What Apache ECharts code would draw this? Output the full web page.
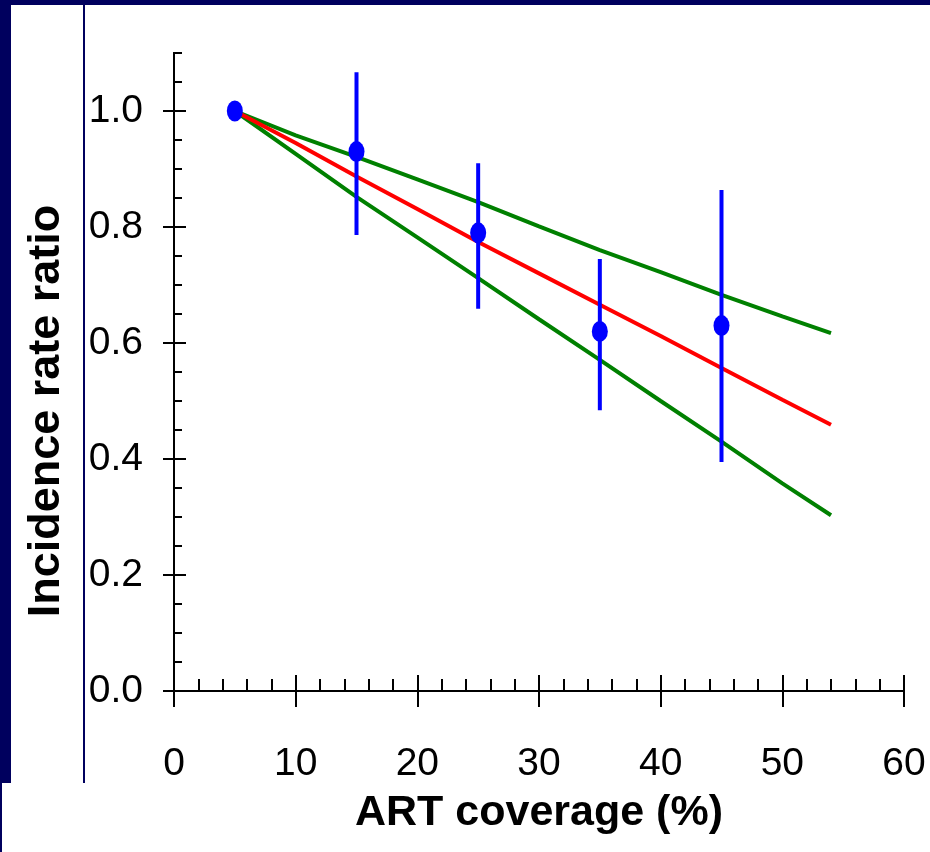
<!DOCTYPE html>
<html>
<head>
<meta charset="utf-8">
<script src="https://cdn.jsdelivr.net/npm/echarts@6/dist/echarts.min.js"></script>
<style>
html,body{margin:0;padding:0;background:#fff;}
#chart{width:930px;height:852px;}
</style>
</head>
<body>
<div id="chart"></div>
<script>
// ---- data ----
const xTitle = 'ART coverage (%)';
const yTitle = 'Incidence rate ratio';
const pointX = [5, 15, 25, 35, 45];
const pointY = [1.0, 0.93, 0.79, 0.62, 0.63];
const errLow = [1.0, 0.786, 0.659, 0.484, 0.395];
const errHigh = [1.0, 1.067, 0.910, 0.745, 0.864];
const lineX = [5, 10, 15, 20, 25, 30, 35, 40, 45, 50, 54];
const redY = [1.0, 0.945, 0.887, 0.831, 0.774, 0.720, 0.666, 0.612, 0.557, 0.502, 0.459];
const upperY = [1.0, 0.958, 0.921, 0.882, 0.843, 0.801, 0.760, 0.722, 0.683, 0.646, 0.617];
const lowerY = [1.0, 0.926, 0.852, 0.782, 0.712, 0.641, 0.571, 0.500, 0.430, 0.358, 0.303];
const yMajorTicks = [0, 0.2, 0.4, 0.6, 0.8, 1.0];
const yMinorTicks = [0.05, 0.1, 0.15, 0.25, 0.3, 0.35, 0.45, 0.5, 0.55, 0.65, 0.7, 0.75, 0.85, 0.9, 0.95, 1.05, 1.1];
const yTickLabels = ['0.0', '0.2', '0.4', '0.6', '0.8', '1.0'];

const navy = '#00005e';
const tickFont = "'Liberation Sans',Arial,Helvetica,sans-serif";
const titleFont = "'Liberation Sans',Arial,Helvetica,sans-serif";

function zip(xs, ys) { return xs.map((x, i) => [x, ys[i]]); }

const chart = echarts.init(document.getElementById('chart'), null, {renderer: 'canvas'});

const baseY = {
  type: 'value', min: 0, max: 1.1, position: 'left', offset: 0,
  splitLine: {show: false},
  axisLine: {show: true, lineStyle: {color: '#000', width: 2}},
  axisLabel: {show: false}
};
const baseX = {
  type: 'value', min: 0, max: 60, interval: 10, position: 'bottom', offset: 0,
  splitLine: {show: false},
  axisLine: {show: true, onZero: false, lineStyle: {color: '#000', width: 2}},
  axisLabel: {show: false}
};

const option = {
  backgroundColor: '#ffffff',
  animation: false,
  grid: {left: 174, right: 26, top: 53, bottom: 161, containLabel: false, outerBoundsMode: 'none'},
  xAxis: [
    Object.assign({}, baseX, {
      axisTick: {show: true, inside: true, length: 16, lineStyle: {color: '#000', width: 2}},
      minorTick: {show: true, splitNumber: 5, length: 12, lineStyle: {color: '#000', width: 2}}
    }),
    Object.assign({}, baseX, {
      axisTick: {show: true, inside: false, length: 16, lineStyle: {color: '#000', width: 2}},
      axisLabel: {show: true, margin: 54, color: '#000', fontSize: 39, fontFamily: tickFont}
    })
  ],
  yAxis: [
    Object.assign({}, baseY, {
      axisTick: {show: true, inside: true, length: 8, customValues: yMinorTicks, lineStyle: {color: '#000', width: 2}}
    }),
    Object.assign({}, baseY, {
      axisTick: {show: true, inside: true, length: 12, customValues: yMajorTicks, lineStyle: {color: '#000', width: 2}}
    }),
    Object.assign({}, baseY, {
      axisTick: {show: true, inside: false, length: 11, customValues: yMajorTicks, lineStyle: {color: '#000', width: 2}},
      axisLabel: {show: true, customValues: yMajorTicks, margin: 31, color: '#000', fontSize: 39, fontFamily: tickFont,
        padding: [6, 0, 0, 0],
        formatter: function (v) { const i = yMajorTicks.findIndex(t => Math.abs(t - v) < 1e-9); return i >= 0 ? yTickLabels[i] : ''; }}
    })
  ],
  graphic: [
    {type: 'rect', shape: {x: 0, y: 0, width: 930, height: 5}, style: {fill: navy}, silent: true},
    {type: 'rect', shape: {x: 0, y: 0, width: 11, height: 783}, style: {fill: navy}, silent: true},
    {type: 'rect', shape: {x: 0, y: 783, width: 2, height: 69}, style: {fill: navy}, silent: true},
    {type: 'rect', shape: {x: 83, y: 0, width: 2, height: 783}, style: {fill: navy}, silent: true},
    {type: 'text', x: 47, y: 411, rotation: Math.PI / 2,
      style: {text: yTitle, fill: '#000', font: 'bold 45px ' + titleFont, textAlign: 'center', textVerticalAlign: 'middle'}},
    {type: 'text', x: 539, y: 813,
      style: {text: xTitle, fill: '#000', font: 'bold 43px ' + titleFont, textAlign: 'center', textVerticalAlign: 'middle'}}
  ],
  series: [
    {type: 'line', xAxisIndex: 0, yAxisIndex: 0, data: zip(lineX, upperY), showSymbol: false, symbol: 'none',
      lineStyle: {color: '#008000', width: 4}, z: 2},
    {type: 'line', xAxisIndex: 0, yAxisIndex: 0, data: zip(lineX, lowerY), showSymbol: false, symbol: 'none',
      lineStyle: {color: '#008000', width: 4}, z: 2},
    {type: 'line', xAxisIndex: 0, yAxisIndex: 0, data: zip(lineX, redY), showSymbol: false, symbol: 'none',
      lineStyle: {color: '#ff0000', width: 4}, z: 3},
    {type: 'custom', xAxisIndex: 0, yAxisIndex: 0, z: 4,
      data: pointX.map((x, i) => [x, errLow[i], errHigh[i]]),
      renderItem: function (params, api) {
        const lo = api.coord([api.value(0), api.value(1)]);
        const hi = api.coord([api.value(0), api.value(2)]);
        return {type: 'line', shape: {x1: lo[0], y1: lo[1], x2: hi[0], y2: hi[1]},
          style: {stroke: '#0000ff', lineWidth: 4}};
      }},
    {type: 'scatter', xAxisIndex: 0, yAxisIndex: 0, z: 5, data: zip(pointX, pointY),
      symbol: 'circle', symbolSize: [16, 21], itemStyle: {color: '#0000ff', opacity: 1}}
  ]
};
chart.setOption(option);
</script>
</body>
</html>
